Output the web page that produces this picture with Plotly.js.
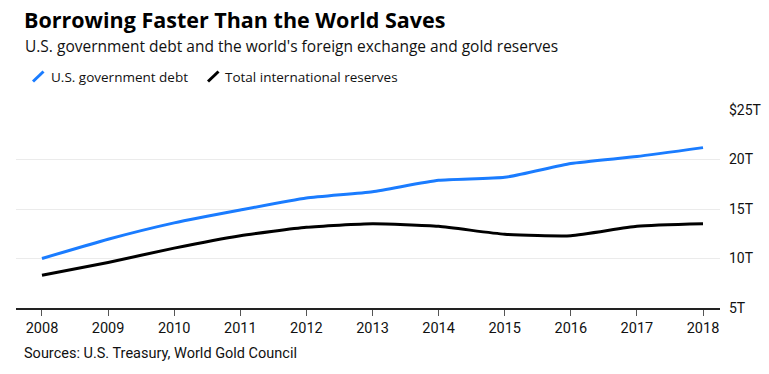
<!DOCTYPE html>
<html>
<head>
<meta charset="utf-8">
<script src="https://cdn.plot.ly/plotly-3.0.1.min.js"></script>
<style>html,body{margin:0;padding:0;background:#fff;}#chart{width:769px;height:374px;}</style>
</head>
<body>
<div id="chart"></div>
<script>
const years = [2008, 2009, 2010, 2011, 2012, 2013, 2014, 2015, 2016, 2017, 2018];
const usDebt = [10.0, 11.95, 13.6, 14.9, 16.1, 16.75, 17.9, 18.2, 19.6, 20.3, 21.2];
const reserves = [8.3, 9.6, 11.05, 12.3, 13.15, 13.5, 13.25, 12.45, 12.3, 13.25, 13.5];
const yTickVals = [5, 10, 15, 20, 25];
const yTickText = ['5T', '10T', '15T', '20T', '$25T'];
const xTickText = years.map(String);

const L = 16, R = 49, T = 110, B = 66, W = 769, H = 374;
const pw = W - L - R, ph = H - T - B;
const px = x => (x - L) / pw;
const py = y => (H - B - y) / ph;

const FONT = 'Roboto, "Liberation Sans", sans-serif';
const HFONT = '"Open Sans", Roboto, sans-serif';

const traces = [
  {x: years, y: reserves, type: 'scatter', mode: 'lines', name: 'Total international reserves',
   line: {color: '#000000', width: 3, shape: 'spline', smoothing: 0.5}, hoverinfo: 'skip'},
  {x: years, y: usDebt, type: 'scatter', mode: 'lines', name: 'U.S. government debt',
   line: {color: '#1a7cff', width: 3, shape: 'spline', smoothing: 0.5}, hoverinfo: 'skip'}
];

const layout = {
  width: W, height: H,
  margin: {l: L, r: R, t: T, b: B},
  paper_bgcolor: '#fff', plot_bgcolor: '#fff',
  showlegend: false,
  font: {family: FONT, color: '#000'},
  title: {text: '<b>Borrowing Faster Than the World Saves</b>', x: 24/W, xanchor: 'left', xref: 'container',
          y: 1 - 20/H, yanchor: 'middle', yref: 'container',
          font: {family: HFONT, size: 21.5, color: '#000'}},
  xaxis: {range: [2007.607, 2018.257], tickvals: years, ticktext: xTickText,
          showgrid: false, zeroline: false, showline: true, linecolor: '#222', linewidth: 1.5,
          ticks: 'outside', ticklen: 6, tickcolor: '#555', tickwidth: 1,
          tickfont: {size: 14.5, color: '#111', family: FONT}, fixedrange: true},
  yaxis: {range: [5, 25], side: 'right', tickvals: yTickVals, ticktext: yTickText,
          showgrid: true, gridcolor: '#ebebeb', gridwidth: 1, zeroline: false, showline: false,
          ticks: '', ticklabelstandoff: 8,
          tickfont: {size: 14, color: '#111', family: FONT}, fixedrange: true},
  shapes: [
    {type: 'line', xref: 'paper', yref: 'paper', x0: px(33), y0: py(81.5), x1: px(43.5), y1: py(71.5),
     line: {color: '#1a7cff', width: 3}},
    {type: 'line', xref: 'paper', yref: 'paper', x0: px(208), y0: py(81.5), x1: px(218.5), y1: py(71.5),
     line: {color: '#000', width: 3}}
  ],
  annotations: [
    {text: "U.S. government debt and the world's foreign exchange and gold reserves", xref: 'paper', yref: 'paper',
     x: px(23), y: py(45.5), xanchor: 'left', yanchor: 'middle', showarrow: false,
     font: {size: 15.5, color: '#111', family: HFONT}},
    {text: 'U.S. government debt', xref: 'paper', yref: 'paper', x: px(49), y: py(76.5),
     xanchor: 'left', yanchor: 'middle', showarrow: false, font: {size: 13.5, color: '#111', family: HFONT}},
    {text: 'Total international reserves', xref: 'paper', yref: 'paper', x: px(223), y: py(76.5),
     xanchor: 'left', yanchor: 'middle', showarrow: false, font: {size: 13.5, color: '#111', family: HFONT}},
    {text: 'Sources: U.S. Treasury, World Gold Council', xref: 'paper', yref: 'paper', x: px(22), y: py(353),
     xanchor: 'left', yanchor: 'middle', showarrow: false, font: {size: 14.5, color: '#111', family: FONT}}
  ]
};

Plotly.newPlot('chart', traces, layout, {displayModeBar: false, staticPlot: true});
</script>
</body>
</html>
